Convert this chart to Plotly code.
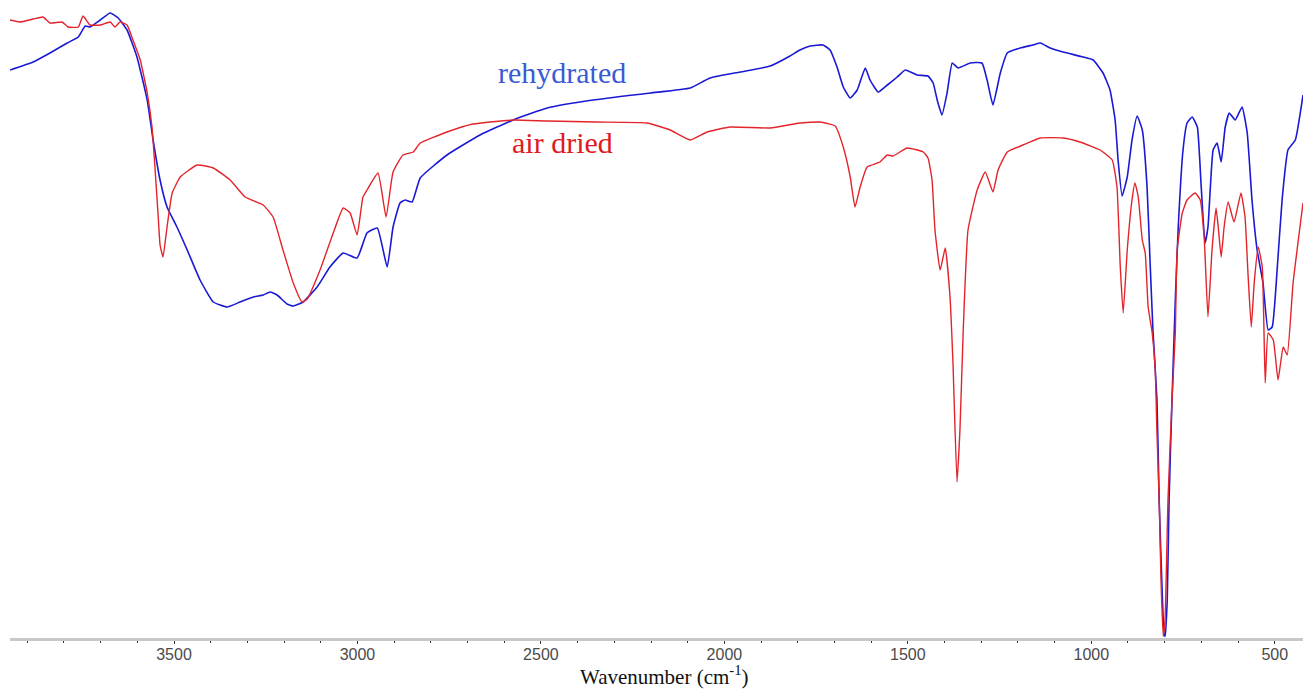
import plotly.graph_objects as go

# Wavenumber (cm-1) and transmittance (arbitrary units)
rehydrated_wn = [3947, 3884, 3838, 3791, 3761, 3742, 3729, 3701, 3674, 3652, 3628, 3601, 3573, 3557,
                 3538, 3519, 3492, 3464, 3429, 3393, 3355, 3320, 3284, 3257, 3238, 3219, 3192, 3175,
                 3148, 3110, 3075, 3039, 3001, 2974, 2946, 2919, 2903, 2884, 2870, 2851, 2829, 2756,
                 2666, 2576, 2483, 2358, 2202, 2093, 2039, 1957, 1875, 1821, 1794, 1766, 1731, 1712,
                 1693, 1676, 1657, 1638, 1616, 1603, 1581, 1556, 1529, 1507, 1475, 1445, 1431, 1420,
                 1407, 1393, 1379, 1363, 1330, 1298, 1284, 1268, 1248, 1229, 1194, 1159, 1139, 1112,
                 1077, 1022, 995, 968, 949, 935, 927, 916, 902, 889, 875, 861, 848, 840, 832, 821,
                 815, 807, 801, 799, 793, 788, 780, 771, 763, 750, 739, 725, 711, 701, 690, 682, 668,
                 657, 646, 635, 624, 608, 589, 575, 562, 548, 532, 518, 507, 493, 480, 464, 444, 423]
rehydrated_t = [568, 576, 585, 595, 601, 612, 611, 618, 625, 620, 608, 581, 538, 498,
                458, 431, 411, 388, 358, 336, 331, 336, 341, 343, 346, 343, 334, 332,
                336, 351, 371, 385, 380, 405, 410, 371, 411, 435, 438, 436, 460, 483,
                503, 518, 530, 538, 545, 550, 560, 566, 572, 582, 588, 592, 593, 588,
                571, 551, 540, 548, 570, 558, 546, 553, 561, 568, 563, 562, 555, 538,
                523, 545, 575, 570, 575, 575, 558, 533, 565, 585, 590, 593, 595, 590,
                586, 581, 578, 565, 548, 518, 478, 442, 461, 498, 522, 508, 451, 378, 308, 238,
                138, 48, 2, 2, 38, 138, 238, 338, 411, 488, 515, 521, 511, 455, 395, 411, 488,
                495, 476, 511, 525, 518, 531, 505, 438, 388, 355, 308, 311, 371, 438, 488, 498, 543]

airdried_wn = [3947, 3920, 3884, 3857, 3838, 3805, 3789, 3761, 3748, 3729, 3701, 3674, 3661, 3647,
               3628, 3612, 3592, 3573, 3560, 3552, 3543, 3538, 3530, 3519, 3505, 3483, 3437, 3393,
               3347, 3306, 3257, 3230, 3203, 3175, 3151, 3137, 3102, 3066, 3039, 3020, 3001, 2985,
               2974, 2944, 2922, 2903, 2876, 2848, 2829, 2756, 2685, 2576, 2483, 2347, 2211, 2148,
               2093, 2047, 1984, 1875, 1794, 1739, 1698, 1676, 1657, 1644, 1630, 1611, 1576, 1556,
               1540, 1502, 1458, 1445, 1434, 1426, 1412, 1398, 1385, 1377, 1366, 1358, 1349, 1336,
               1311, 1289, 1268, 1254, 1229, 1186, 1139, 1077, 1031, 976, 943, 930, 921, 913, 902,
               889, 881, 872, 861, 853, 845, 834, 826, 821, 815, 810, 804, 799, 791, 780, 771, 766,
               752, 739, 717, 703, 692, 682, 671, 660, 654, 646, 638, 627, 611, 592, 581, 573, 564,
               556, 545, 534, 526, 518, 504, 491, 477, 466, 450, 423]
airdried_t = [618, 616, 619, 621, 615, 616, 611, 611, 622, 613, 613, 616, 611, 616,
              613, 598, 578, 545, 511, 471, 421, 393, 381, 411, 445, 461, 473, 470,
              458, 441, 433, 421, 388, 355, 336, 339, 368, 405, 430, 425, 403, 441,
              448, 465, 421, 466, 483, 486, 495, 506, 514, 518, 517, 516, 515, 508,
              498, 506, 511, 510, 515, 516, 512, 491, 461, 431, 451, 471, 476, 483,
              482, 490, 486, 480, 458, 408, 368, 390, 341, 275, 156, 208, 308, 408,
              448, 466, 446, 468, 486, 493, 500, 500, 496, 488, 478, 451, 371, 325, 388,
              438, 455, 441, 398, 385, 331, 305, 271, 205, 138, 58, 2, 18, 138, 238, 305, 388,
              425, 438, 445, 438, 398, 321, 388, 430, 411, 381, 411, 436, 416, 445, 421, 365, 311,
              355, 391, 371, 255, 305, 298, 258, 291, 283, 355, 435]

x_ticks = [3500, 3000, 2500, 2000, 1500, 1000, 500]

fig = go.Figure()
fig.add_trace(go.Scatter(x=rehydrated_wn, y=rehydrated_t, mode="lines",
                         line=dict(color="#1a1ad6", width=1.6, shape="spline", smoothing=0.4),
                         name="rehydrated", showlegend=False))
fig.add_trace(go.Scatter(x=airdried_wn, y=airdried_t, mode="lines",
                         line=dict(color="#e3242b", width=1.4, shape="spline", smoothing=0.4),
                         name="air dried", showlegend=False))

fig.add_annotation(x=2442, y=566, xref="x", yref="y", text="rehydrated", showarrow=False,
                   font=dict(family="Liberation Serif", size=30, color="#3a5ad6"))
fig.add_annotation(x=2442, y=496, xref="x", yref="y", text="air dried", showarrow=False,
                   font=dict(family="Liberation Serif", size=30, color="#e01a22"))
fig.add_annotation(x=(665 - 10) / 1293, y=-37 / 638, xref="paper", yref="paper",
                   text="Wavenumber (cm<sup>-1</sup>)", showarrow=False, yanchor="middle",
                   font=dict(family="Liberation Serif", size=21, color="#111"))

fig.update_layout(
    width=1303, height=689,
    margin=dict(l=10, r=0, t=0, b=51),
    paper_bgcolor="white", plot_bgcolor="white",
    xaxis=dict(range=[3947, 423], tickvals=x_ticks, showgrid=False, zeroline=False,
               showline=True, linecolor="#c8c8c8", linewidth=3,
               ticks="outside", ticklen=3, tickwidth=1, tickcolor="#333",
               ticklabelstandoff=-3,
               minor=dict(dtick=100, tick0=0, ticks="outside", ticklen=2, tickcolor="#333"),
               tickfont=dict(family="Liberation Sans", size=16, color="#4a4a4a")),
    yaxis=dict(range=[0, 638], visible=False),
)

fig.write_html("out.html")
